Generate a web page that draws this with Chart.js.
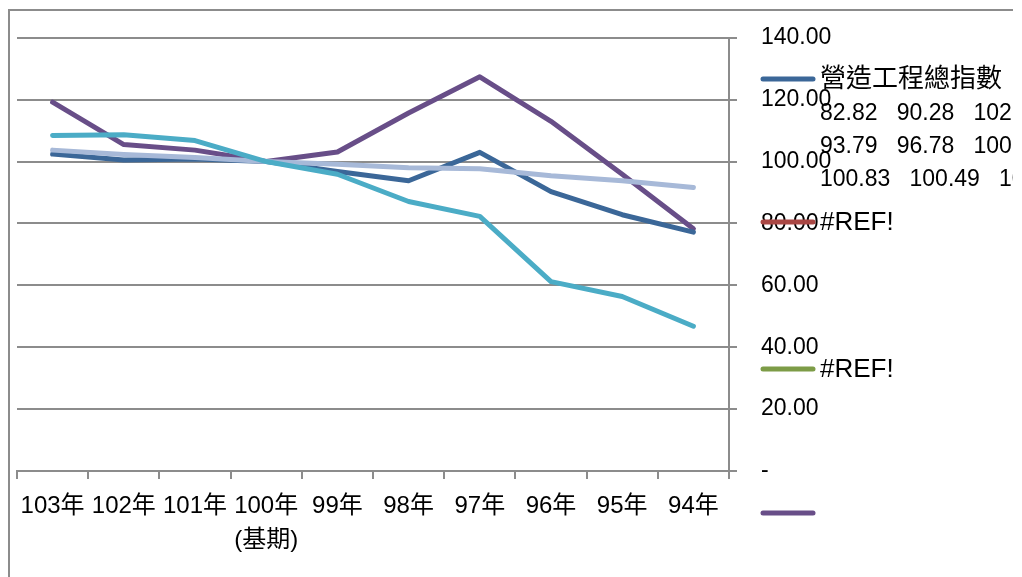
<!DOCTYPE html>
<html>
<head>
<meta charset="utf-8">
<script src="https://cdn.jsdelivr.net/npm/chart.js@4.4.1/dist/chart.umd.min.js"></script>
<style>
  html, body { margin: 0; padding: 0; background: #fff; }
  #wrap { width: 1022px; height: 577px; }
</style>
</head>
<body>
<div id="wrap"><canvas id="indexChart" width="1022" height="577"></canvas></div>
<script>
// categories (left to right)
const years = [['103年'], ['102年'], ['101年'], ['100年', '(基期)'], ['99年'], ['98年'], ['97年'], ['96年'], ['95年'], ['94年']];

// series values, same order as years
const totalIndex = [102.41, 100.49, 100.83, 100.00, 96.78, 93.79, 102.97, 90.28, 82.82, 77.20];
const purpleSeries = [119.2, 105.5, 103.7, 100.0, 103.1, 115.7, 127.4, 113.0, 95.9, 78.3];
const cyanSeries = [108.4, 108.7, 106.8, 100.0, 95.9, 87.1, 82.3, 61.2, 56.4, 46.8];
const lightSeries = [103.7, 102.3, 101.3, 100.0, 99.1, 98.0, 97.7, 95.4, 93.8, 91.6];
const refSeriesA = [];
const refSeriesB = [];

// right axis ticks
const yTicks = [0, 20, 40, 60, 80, 100, 120, 140];

const FONT = '"Liberation Sans", "Noto Sans CJK TC", sans-serif';
const GRID = '#8c8c8c';

// legend entries (the reference legend is clipped, only these show)
const legendItems = [
    { color: '#3B6798', y: 79, lines: buildTotalLabel() },
    { color: '#A94744', y: 222, lines: ['#REF!'] },
    { color: '#7D9C47', y: 369, lines: ['#REF!'] },
    { color: '#684E88', y: 513, lines: [''] }
];

function buildTotalLabel() {
    // the name cell plus the values, oldest first, wrapped three a line
    const vals = totalIndex.slice().reverse().slice(1).map(v => v.toFixed(2));
    const lines = ['營造工程總指數'];
    for (let i = 0; i < vals.length; i += 3) {
        lines.push(vals.slice(i, i + 3).join('   '));
    }
    return lines;
}

const framePlugin = {
    id: 'frame',
    beforeDraw(chart) {
        const ctx = chart.ctx;
        ctx.save();
        ctx.strokeStyle = GRID;
        ctx.lineWidth = 2;
        ctx.beginPath();
        ctx.moveTo(9, 577);
        ctx.lineTo(9, 10);
        ctx.lineTo(1013, 10);
        ctx.stroke();
        ctx.restore();
    },
    afterDraw(chart) {
        const ctx = chart.ctx;
        ctx.save();
        ctx.beginPath();
        ctx.rect(0, 0, 1013, 577);
        ctx.clip();
        legendItems.forEach(item => {
            ctx.strokeStyle = item.color;
            ctx.lineWidth = 5;
            ctx.lineCap = 'round';
            ctx.beginPath();
            ctx.moveTo(763, item.y);
            ctx.lineTo(813, item.y);
            ctx.stroke();
            ctx.fillStyle = '#000';
            ctx.textBaseline = 'middle';
            ctx.textAlign = 'left';
            item.lines.forEach((line, i) => {
                ctx.font = (i === 0 ? '26px ' : '23px ') + FONT;
                ctx.fillText(line, 820, item.y + 1 + (i === 0 ? 0 : 1 + i * 33));
            });
        });
        ctx.restore();
    }
};

const ctx = document.getElementById('indexChart').getContext('2d');

new Chart(ctx, {
    type: 'line',
    data: {
        labels: years,
        datasets: [{
            label: '',
            data: cyanSeries,
            borderColor: '#4BACC6'
        }, {
            label: '',
            data: lightSeries,
            borderColor: '#A7B9D8'
        }, {
            label: '營造工程總指數',
            data: totalIndex,
            borderColor: '#3B6798'
        }, {
            label: '',
            data: purpleSeries,
            borderColor: '#684E88'
        }, {
            label: '#REF!',
            data: refSeriesA,
            borderColor: '#A94744'
        }, {
            label: '#REF!',
            data: refSeriesB,
            borderColor: '#7D9C47'
        }]
    },
    options: {
        responsive: false,
        animation: false,
        layout: { padding: { left: 17, top: 34, right: 0, bottom: 0 } },
        elements: {
            line: { borderWidth: 5, tension: 0, borderCapStyle: 'round', borderJoinStyle: 'round' },
            point: { radius: 0 }
        },
        plugins: {
            legend: { display: false },
            tooltip: { enabled: false }
        },
        scales: {
            x: {
                offset: true,
                grid: {
                    offset: true,
                    drawOnChartArea: false,
                    drawTicks: true,
                    tickLength: 8,
                    color: GRID,
                    lineWidth: 2
                },
                border: { color: GRID, width: 2 },
                ticks: {
                    color: '#000',
                    padding: 11,
                    maxRotation: 0,
                    autoSkip: false,
                    font: { family: FONT, size: 24, lineHeight: 1.4 }
                },
                afterFit(scale) { scale.height = 106; }
            },
            y: {
                position: 'right',
                min: 0,
                max: 140,
                afterBuildTicks(scale) { scale.ticks = yTicks.map(v => ({ value: v })); },
                grid: { color: GRID, lineWidth: 2, tickLength: 8 },
                border: { color: GRID, width: 2 },
                ticks: {
                    color: '#000',
                    padding: 24,
                    font: { family: FONT, size: 23 },
                    callback: v => v === 0 ? '-' : v.toFixed(2)
                },
                afterFit(scale) { scale.width = 1022 - 729; }
            }
        }
    },
    plugins: [framePlugin]
});
</script>
</body>
</html>
